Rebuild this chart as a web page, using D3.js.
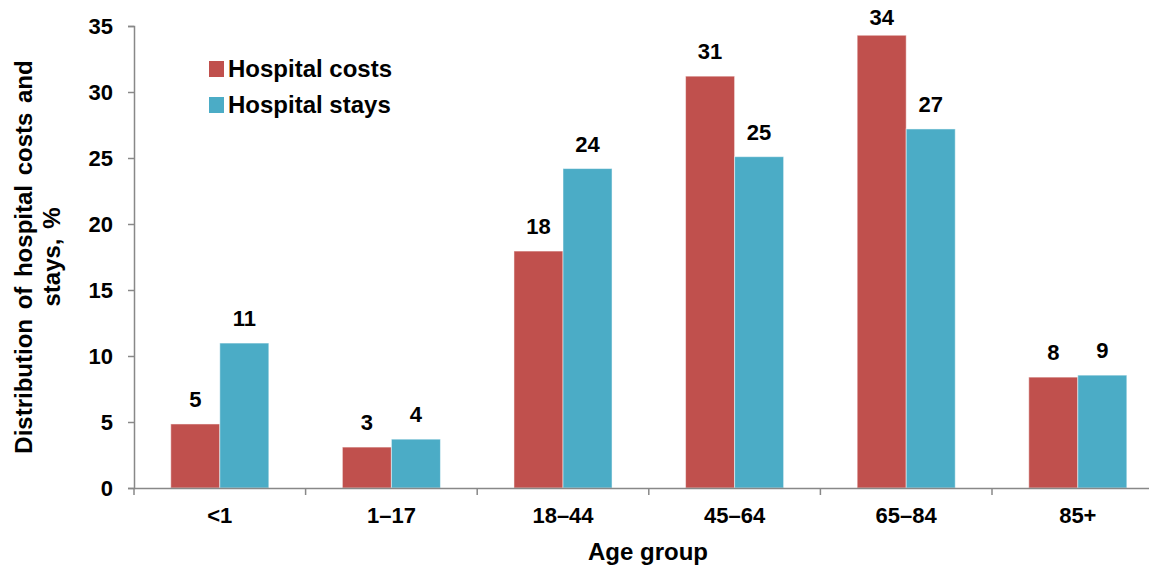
<!DOCTYPE html>
<html>
<head>
<meta charset="utf-8">
<script src="https://cdn.jsdelivr.net/npm/d3@7"></script>
<style>
  body { margin: 0; background: #fff; }
  text { font-family: "Liberation Sans", Arial, sans-serif; font-weight: bold; fill: #000; }
</style>
</head>
<body>
<div id="chart"></div>
<script>
// data
var ageGroups = ["<1", "1\u201317", "18\u201344", "45\u201364", "65\u201384", "85+"];
var seriesNames = ["Hospital costs", "Hospital stays"];
var costs = [4.85, 3.1, 17.95, 31.2, 34.3, 8.4];
var stays = [10.98, 3.7, 24.2, 25.1, 27.2, 8.55];
var costLabels = ["5", "3", "18", "31", "34", "8"];
var stayLabels = ["11", "4", "24", "25", "27", "9"];
var yTicks = [0, 5, 10, 15, 20, 25, 30, 35];
var colors = ["#C0504D", "#4BACC6"];

var W = 1149, H = 565;
var mLeft = 134, mTop = 26, mBottom = 488;
var step = 171.6;

var svg = d3.select("#chart").append("svg")
    .attr("width", W)
    .attr("height", H);

// scales
var x0 = d3.scaleBand()
    .domain(ageGroups)
    .range([mLeft, mLeft + step * ageGroups.length])
    .padding(0);
var x1 = d3.scaleBand()
    .domain(seriesNames)
    .range([0, x0.bandwidth()])
    .paddingInner(0)
    .paddingOuter(0.75);
var y = d3.scaleLinear()
    .domain([0, 35])
    .range([mBottom, mTop]);

// bars
var rows = ageGroups.map(function(g, i) {
  return {
    group: g,
    vals: [
      {name: seriesNames[0], v: costs[i], lab: costLabels[i]},
      {name: seriesNames[1], v: stays[i], lab: stayLabels[i]}
    ]
  };
});

var groups = svg.selectAll(".grp")
    .data(rows)
    .enter().append("g")
    .attr("class", "grp")
    .attr("transform", function(d) { return "translate(" + x0(d.group) + ",0)"; });

groups.selectAll("rect")
    .data(function(d) { return d.vals; })
    .enter().append("rect")
    .attr("x", function(d) { return x1(d.name); })
    .attr("width", x1.bandwidth())
    .attr("y", function(d) { return y(d.v); })
    .attr("height", function(d) { return mBottom - y(d.v); })
    .attr("fill", function(d, i) { return colors[i]; })
    .attr("stroke", "rgba(255,255,255,0.5)")
    .attr("stroke-width", 1);

groups.selectAll(".val")
    .data(function(d) { return d.vals; })
    .enter().append("text")
    .attr("class", "val")
    .attr("x", function(d) { return x1(d.name) + x1.bandwidth() / 2; })
    .attr("y", function(d) { return Math.max(y(d.v) - 17, 25); })
    .attr("text-anchor", "middle")
    .attr("font-size", "22px")
    .text(function(d) { return d.lab; });

// y axis
var yAxis = svg.append("g")
    .attr("transform", "translate(" + mLeft + ",0)")
    .call(d3.axisLeft(y).tickValues(yTicks).tickSize(6).tickPadding(15));
yAxis.select(".domain").attr("stroke", "#888").attr("stroke-width", 1.5);
yAxis.selectAll(".tick line").attr("stroke", "#888").attr("stroke-width", 1.5);
yAxis.selectAll(".tick text")
    .attr("font-size", "22px")
    .attr("font-family", "Liberation Sans, Arial, sans-serif")
    .attr("font-weight", "bold")
    .attr("fill", "#000");

// x axis: line + ticks between groups
var xAxis = svg.append("g")
    .attr("transform", "translate(0," + mBottom + ")")
    .call(d3.axisBottom(x0).tickSize(0).tickPadding(19));
xAxis.select(".domain").attr("stroke", "#888").attr("stroke-width", 1.5);
xAxis.selectAll(".tick text")
    .attr("font-size", "22px")
    .attr("font-family", "Liberation Sans, Arial, sans-serif")
    .attr("font-weight", "bold")
    .attr("fill", "#000");
xAxis.selectAll(".sep")
    .data(ageGroups)
    .enter().append("line")
    .attr("class", "sep")
    .attr("x1", function(d) { return x0(d); })
    .attr("x2", function(d) { return x0(d); })
    .attr("y1", 0)
    .attr("y2", 7)
    .attr("stroke", "#888")
    .attr("stroke-width", 1.5);

// axis titles
svg.append("text")
    .attr("x", 648)
    .attr("y", 560)
    .attr("text-anchor", "middle")
    .attr("font-size", "24px")
    .text("Age group");

var yt = svg.append("text")
    .attr("transform", "translate(32," + ((mTop + mBottom) / 2) + ") rotate(-90)")
    .attr("text-anchor", "middle")
    .attr("font-size", "24px")
    .attr("word-spacing", "3px");
yt.append("tspan").attr("x", 0).attr("dy", 0).text("Distribution of hospital costs and");
yt.append("tspan").attr("x", 0).attr("dy", 28).text("stays, %");

// legend
var legend = svg.selectAll(".leg")
    .data(seriesNames)
    .enter().append("g")
    .attr("class", "leg")
    .attr("transform", function(d, i) { return "translate(209," + (61 + i * 36) + ")"; });
legend.append("rect")
    .attr("width", 15)
    .attr("height", 16)
    .attr("fill", function(d, i) { return colors[i]; });
legend.append("text")
    .attr("x", 19)
    .attr("y", 16)
    .attr("font-size", "24px")
    .text(function(d) { return d; });
</script>
</body>
</html>
